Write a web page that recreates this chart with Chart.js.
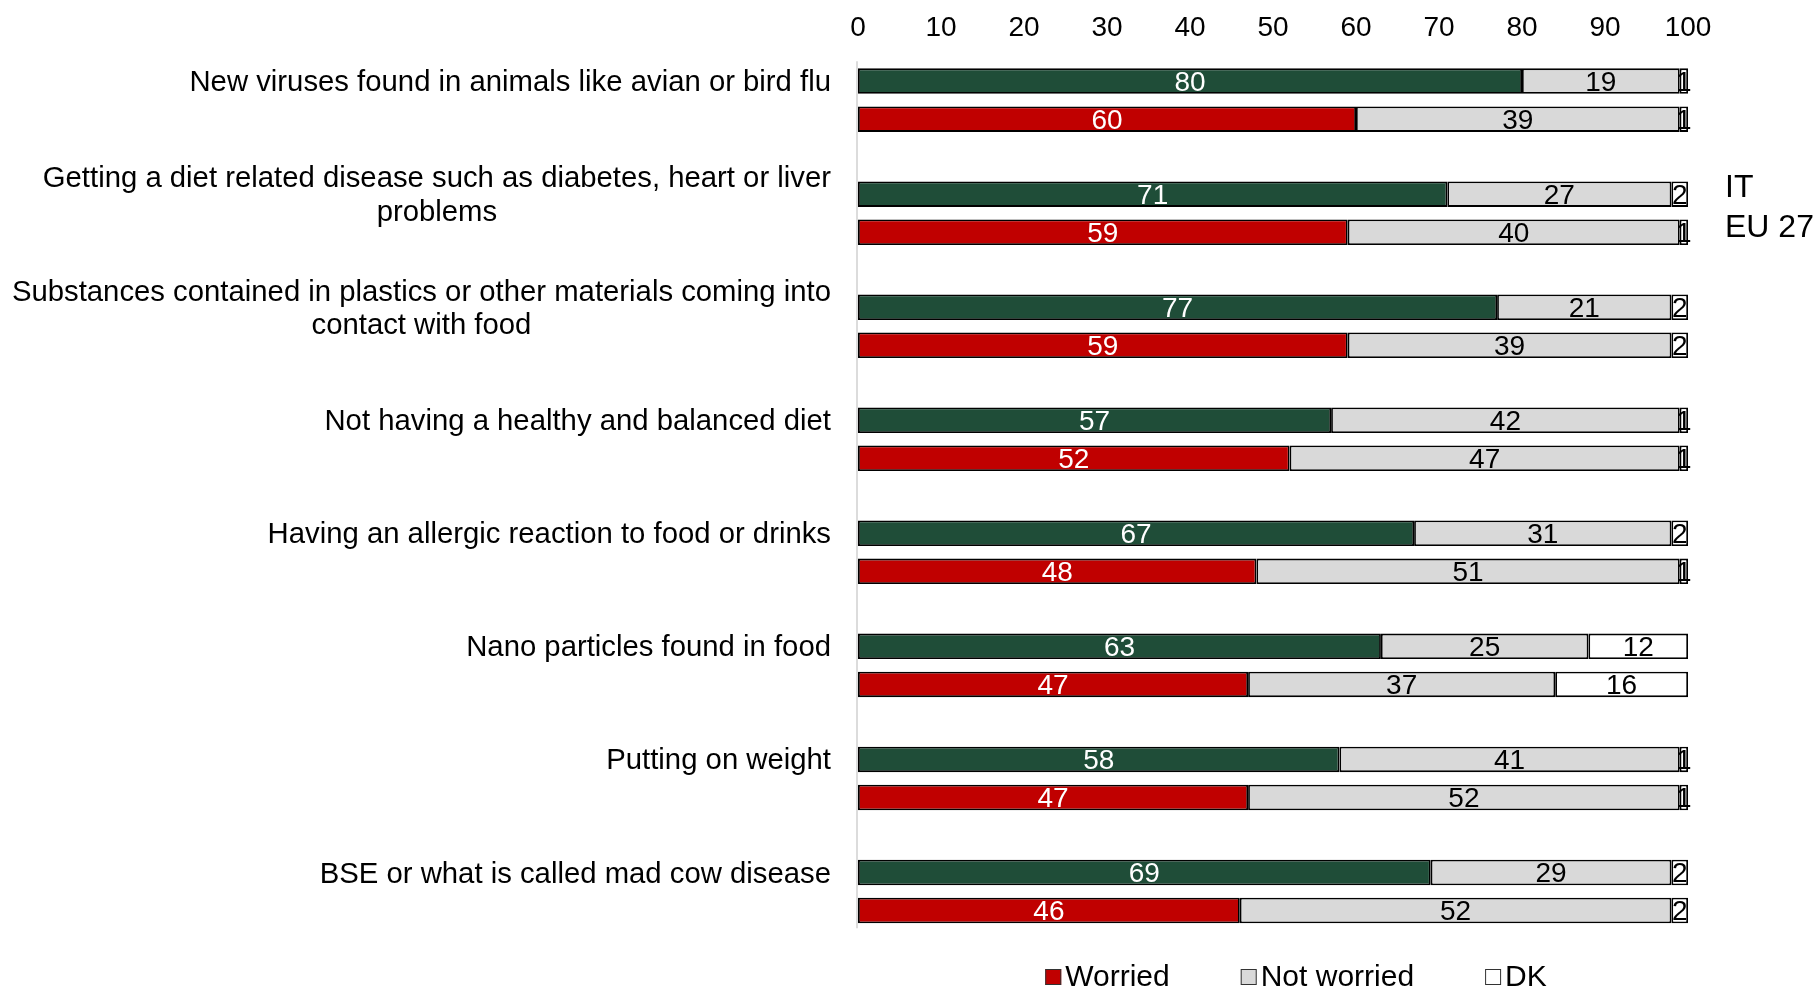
<!DOCTYPE html>
<html>
<head>
<meta charset="utf-8">
<script src="https://cdn.jsdelivr.net/npm/chart.js@4.4.0/dist/chart.umd.min.js"></script>
<style>
  html, body { margin: 0; padding: 0; background: #ffffff; }
  #wrap { width: 1816px; height: 989px; position: relative; }
</style>
</head>
<body>
<div id="wrap"><canvas id="worry-chart"></canvas></div>
<script>
const categories = [
    ["New viruses found in animals like avian or bird flu"],
    ["Getting a diet related disease such as diabetes, heart or liver", "problems"],
    ["Substances contained in plastics or other materials coming into", "contact with food"],
    ["Not having a healthy and balanced diet"],
    ["Having an allergic reaction to food or drinks"],
    ["Nano particles found in food"],
    ["Putting on weight"],
    ["BSE or what is called mad cow disease"]
];

const itWorried    = [80, 71, 77, 57, 67, 63, 58, 69];
const itNotWorried = [19, 27, 21, 42, 31, 25, 41, 29];
const itDk         = [1, 2, 2, 1, 2, 12, 1, 2];

const euWorried    = [60, 59, 59, 52, 48, 47, 47, 46];
const euNotWorried = [39, 40, 39, 47, 51, 37, 52, 52];
const euDk         = [1, 1, 2, 1, 1, 16, 1, 2];

const seriesNames = ["IT", "EU 27"];
const answerNames = ["Worried", "Not worried", "DK"];
const xTicks = [0, 10, 20, 30, 40, 50, 60, 70, 80, 90, 100];

const FONT = '"Liberation Sans", Arial, sans-serif';
const GREEN = "#1f4d38";
const RED = "#c00000";
const GREY = "#d9d9d9";
const EDGE = "#000000";

Chart.defaults.font.family = FONT;
Chart.defaults.color = "#000";

function makeSet(label, data, color, stack) {
    return {
        label: label,
        data: data,
        stack: stack,
        backgroundColor: color,
        borderColor: EDGE,
        borderWidth: 1.8,
        borderSkipped: false,
        categoryPercentage: 0.673,
        barPercentage: 0.67
    };
}

const datasets = [
    makeSet(seriesNames[0] + " " + answerNames[0], itWorried, GREEN, "IT"),
    makeSet(seriesNames[0] + " " + answerNames[1], itNotWorried, GREY, "IT"),
    makeSet(seriesNames[0] + " " + answerNames[2], itDk, "#ffffff", "IT"),
    makeSet(answerNames[0], euWorried, RED, "EU"),
    makeSet(answerNames[1], euNotWorried, GREY, "EU"),
    makeSet(answerNames[2], euDk, "#ffffff", "EU")
];

// thin grey line at zero, only as tall as the bar block
const zeroLine = {
    id: "zeroLine",
    beforeDatasetsDraw(chart) {
        const ctx = chart.ctx;
        const first = chart.getDatasetMeta(0).data[0];
        const last = chart.getDatasetMeta(3).data[categories.length - 1];
        const x0 = chart.scales.x.getPixelForValue(0);
        ctx.save();
        ctx.strokeStyle = "#d0d0d0";
        ctx.lineWidth = 1.5;
        ctx.beginPath();
        ctx.moveTo(x0 - 1, first.y - first.height / 2 - 7);
        ctx.lineTo(x0 - 1, last.y + last.height / 2 + 5);
        ctx.stroke();
        ctx.restore();
    }
};

// numbers written in the middle of each bar segment
const segmentValues = {
    id: "segmentValues",
    afterDatasetsDraw(chart) {
        const ctx = chart.ctx;
        ctx.save();
        ctx.font = "28px " + FONT;
        ctx.textAlign = "center";
        ctx.textBaseline = "middle";
        chart.data.datasets.forEach((ds, di) => {
            const meta = chart.getDatasetMeta(di);
            meta.data.forEach((bar, i) => {
                const p = bar.getProps(["x", "y", "base"], true);
                ctx.fillStyle = (di === 0 || di === 3) ? "#ffffff" : "#000000";
                ctx.fillText(String(ds.data[i]), (p.x + p.base) / 2, p.y + 2);
            });
        });
        ctx.restore();
    }
};

// category names: right aligned block, lines centred inside it
const categoryNames = {
    id: "categoryNames",
    afterDraw(chart) {
        const ctx = chart.ctx;
        const area = chart.chartArea;
        const itBars = chart.getDatasetMeta(0).data;
        const euBars = chart.getDatasetMeta(3).data;
        const lineHeight = 33.5;
        ctx.save();
        ctx.font = "29.3px " + FONT;
        ctx.fillStyle = "#000";
        ctx.textAlign = "center";
        ctx.textBaseline = "middle";
        categories.forEach((lines, i) => {
            const widest = Math.max(...lines.map(l => ctx.measureText(l).width));
            const cx = area.left - 27 - widest / 2;
            const top = itBars[i].y + 2 - (lines.length - 1) * lineHeight / 2;
            lines.forEach((line, k) => {
                ctx.fillText(line, cx, top + k * lineHeight);
            });
        });

        // series key on the right
        ctx.font = "32px " + FONT;
        ctx.textAlign = "left";
        ctx.fillText(seriesNames[0], area.right + 37, itBars[1].y - 5.5);
        ctx.fillText(seriesNames[1], area.right + 37, euBars[1].y - 4.5);
        ctx.restore();
    }
};

// answer key under the plot
const answerKey = {
    id: "answerKey",
    afterDraw(chart) {
        const ctx = chart.ctx;
        const area = chart.chartArea;
        const items = chart.data.datasets.filter(d => d.stack === "EU");
        const box = 16, gap = 4, spacing = 71;
        ctx.save();
        ctx.font = "30px " + FONT;
        const widths = items.map(d => box + gap + ctx.measureText(d.label).width);
        const total = widths.reduce((a, b) => a + b, 0) + spacing * (items.length - 1);
        let x = (area.left + area.right) / 2 + 23 - total / 2;
        const y = area.bottom + 29;
        ctx.textBaseline = "middle";
        ctx.textAlign = "left";
        items.forEach((d, i) => {
            ctx.fillStyle = d.backgroundColor;
            ctx.fillRect(x, y - box / 2, box, box);
            ctx.strokeStyle = "#333";
            ctx.lineWidth = 1;
            ctx.strokeRect(x + 0.5, y - box / 2 + 0.5, box - 1, box - 1);
            ctx.fillStyle = "#000";
            ctx.fillText(d.label, x + box + gap, y + 1);
            x += widths[i] + spacing;
        });
        ctx.restore();
    }
};

new Chart(document.getElementById("worry-chart"), {
    type: "bar",
    data: {
        labels: categories.map(c => c.join(" ")),
        datasets: datasets
    },
    options: {
        indexAxis: "y",
        responsive: true,
        maintainAspectRatio: false,
        animation: false,
        layout: { padding: { top: 12, right: 128, bottom: 41, left: 0 } },
        plugins: {
            legend: { display: false },
            tooltip: { enabled: false }
        },
        scales: {
            x: {
                position: "top",
                stacked: true,
                min: 0,
                max: 100,
                afterBuildTicks: (scale) => {
                    scale.ticks = xTicks.map(v => ({ value: v }));
                },
                ticks: {
                    font: { size: 28 },
                    color: "#000",
                    padding: -1
                },
                grid: { display: false, drawTicks: false },
                border: { display: false }
            },
            y: {
                stacked: true,
                afterFit: (scale) => { scale.width = 858; },
                ticks: { display: false },
                grid: { display: false, drawTicks: false },
                border: { display: false }
            }
        }
    },
    plugins: [zeroLine, segmentValues, categoryNames, answerKey]
});
</script>
</body>
</html>
